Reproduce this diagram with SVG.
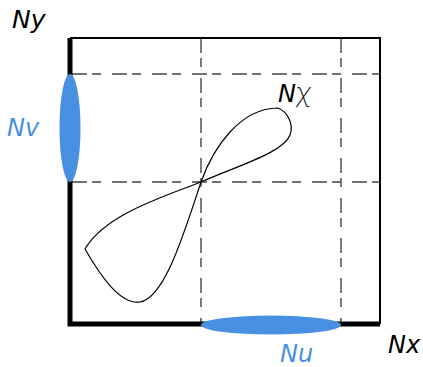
<svg xmlns="http://www.w3.org/2000/svg" width="423" height="367" viewBox="0 0 423 367">
<style>
.lbl{font-family:"DejaVu Sans",sans-serif;font-style:oblique;font-size:24px;fill:#000}
.blue{fill:#4a90e2}
.dash{stroke:#444;stroke-width:1.4;stroke-dasharray:15,5,9,11;fill:none}
.chi{font-family:Inter,"Open Sans",sans-serif;font-weight:200;font-style:italic;font-size:27px;fill:#222}
</style>
<rect width="423" height="367" fill="#fff"/>
<g id="grid">
<line class="dash" x1="72" y1="74" x2="380" y2="74"/>
<line class="dash" x1="72" y1="182" x2="380" y2="182"/>
<line class="dash" x1="201" y1="38" x2="201" y2="322"/>
<line class="dash" x1="341" y1="38" x2="341" y2="322"/>
</g>
<g id="frame">
<polyline points="70,38 380,38 380,324" fill="none" stroke="#000" stroke-width="2"/>
<polyline points="70,38 70,324 380,324" fill="none" stroke="#000" stroke-width="5"/>
</g>
<g id="Nv">
<ellipse class="blue" cx="70" cy="128" rx="10.5" ry="54"/>
<text class="lbl blue" x="7" y="136">Nv</text>
</g>
<g id="Nu">
<ellipse class="blue" cx="271" cy="325" rx="70" ry="9.5"/>
<text class="lbl blue" x="280" y="362">Nu</text>
</g>
<g id="Nchi">
<path d="M278,108 C288,112 294,125 290,135 C284,152 240,165 201,182 C160,198 105,215 85,249 C100,275 120,305 140,302 C165,298 185,230 201,182 C213,148 240,108 278,108 Z" fill="none" stroke="#000" stroke-width="1.2"/>
<text class="lbl" x="278" y="102">N<tspan class="chi">χ</tspan></text>
</g>
<text class="lbl" x="12" y="28" style="font-size:25px">Ny</text>
<text class="lbl" x="388" y="353">Nx</text>
</svg>
